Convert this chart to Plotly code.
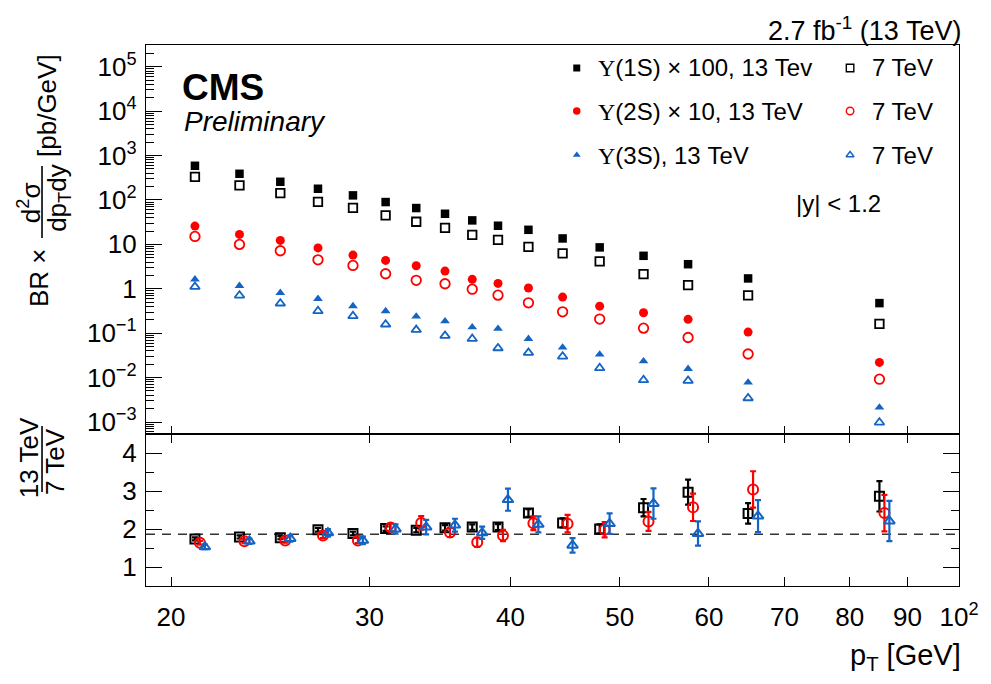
import plotly.graph_objects as go

# ---------------- data ----------------
pt = [21, 23, 25, 27, 29, 31, 33, 35, 37, 39, 41.5, 44.5, 48, 52.5, 57.5, 65, 85]

y1s_13 = [589, 389, 257, 179, 127, 89.8, 65.8, 48.9, 34.7, 26.3, 21.3, 13.6, 8.56, 5.53, 3.58, 1.71, 0.476]
y1s_7 = [333, 213, 143, 91.0, 66.6, 45.0, 32.3, 23.6, 16.4, 12.7, 8.83, 6.27, 4.14, 2.14, 1.21, 0.71, 0.163]
y2s_13 = [25.8, 16.8, 12.3, 8.34, 5.74, 4.36, 3.30, 2.50, 1.63, 1.32, 1.04, 0.650, 0.406, 0.288, 0.205, 0.106, 0.022]
y2s_7 = [15.1, 10.0, 7.18, 4.50, 3.36, 2.18, 1.55, 1.30, 0.98, 0.72, 0.484, 0.303, 0.208, 0.130, 0.080, 0.034, 0.0092]
y3s_13 = [1.63, 1.17, 0.813, 0.595, 0.408, 0.315, 0.239, 0.187, 0.137, 0.126, 0.0748, 0.0479, 0.0333, 0.0235, 0.0158, 0.0078, 0.00213]
y3s_7 = [1.11, 0.710, 0.469, 0.315, 0.243, 0.158, 0.119, 0.0874, 0.0748, 0.0461, 0.0362, 0.0300, 0.0164, 0.0088, 0.0085, 0.00345, 0.00098]

r1 = [1.74, 1.79, 1.77, 1.98, 1.88, 2.01, 1.97, 2.03, 2.05, 2.05, 2.42, 2.16, 2.00, 2.56, 2.97, 2.41, 2.86]
r1_err = [0.04, 0.04, 0.04, 0.05, 0.05, 0.06, 0.06, 0.07, 0.07, 0.08, 0.10, 0.12, 0.12, 0.23, 0.33, 0.27, 0.40]
r2 = [1.64, 1.68, 1.70, 1.83, 1.70, 2.04, 2.16, 1.91, 1.65, 1.83, 2.15, 2.14, 1.98, 2.20, 2.57, 3.04, 2.42]
r2_err = [0.05, 0.05, 0.06, 0.07, 0.07, 0.10, 0.18, 0.12, 0.12, 0.15, 0.18, 0.23, 0.20, 0.25, 0.36, 0.48, 0.48]
r3 = [1.53, 1.68, 1.75, 1.90, 1.70, 2.00, 2.05, 2.10, 1.90, 2.77, 2.12, 1.57, 2.14, 2.67, 1.88, 2.34, 2.21]
r3_err = [0.06, 0.07, 0.08, 0.10, 0.10, 0.12, 0.19, 0.17, 0.16, 0.29, 0.21, 0.19, 0.27, 0.40, 0.32, 0.42, 0.53]

ratio_ref = 1.86

x_tickvals = [20, 30, 40, 50, 60, 70, 80, 90, 100]
x_ticktext = ["20", "30", "40", "50", "60", "70", "80", "90", "10<sup>2</sup>"]
y_tickvals = [1e-3, 1e-2, 1e-1, 1, 10, 1e2, 1e3, 1e4, 1e5]
y_ticktext = ["10<sup>\u22123</sup>", "10<sup>\u22122</sup>", "10<sup>\u22121</sup>", "1", "10",
              "10<sup>2</sup>", "10<sup>3</sup>", "10<sup>4</sup>", "10<sup>5</sup>"]

# ---------------- style ----------------
BLACK = "#000000"
RED = "#ff0000"
BLUE = "#1464c4"
FONT = "Liberation Sans, Arial, sans-serif"
W, H = 991, 684
ML, MR, MT, MB = 146, 24, 45, 98
PW, PH = W - ML - MR, H - MT - MB
SPLIT = 434  # pixel y of panel boundary


def px(x):
    return (x - ML) / PW


def py(y):
    return (H - MB - y) / PH


def py_up(y):  # fraction inside the upper panel
    return (SPLIT - y) / (SPLIT - MT)


split_dom = py(SPLIT)

fig = go.Figure()


def mk(sym, size, color, filled, lw=1.8):
    if filled:
        return dict(symbol=sym, size=size, color=color, line=dict(width=0))
    return dict(symbol=sym + "-open", size=size, color=color, line=dict(width=lw, color=color))


# upper panel
series = [
    (y1s_7, mk("square", 8.5, BLACK, False)),
    (y1s_13, mk("square", 8.5, BLACK, True)),
    (y2s_7, mk("circle", 9.5, RED, False)),
    (y2s_13, mk("circle", 9, RED, True)),
    (y3s_7, mk("triangle-up", 8.5, BLUE, False)),
    (y3s_13, mk("triangle-up", 8.5, BLUE, True)),
]
for ys, m in series:
    fig.add_trace(go.Scatter(x=pt, y=ys, mode="markers", marker=m, xaxis="x", yaxis="y",
                             showlegend=False, hoverinfo="x+y"))

# lower panel ratios (small horizontal offsets so they do not overlap)
ratio_sets = [
    (r1, r1_err, 1.0, mk("square", 9, BLACK, False, 2)),
    (r2, r2_err, 1.0102, mk("circle", 10, RED, False, 2)),
    (r3, r3_err, 1.0205, mk("triangle-up", 9.5, BLUE, False, 2)),
]
for r, e, f, m in ratio_sets:
    fig.add_trace(go.Scatter(
        x=[p * f for p in pt], y=r, mode="markers", marker=m,
        error_y=dict(type="data", array=e, color=m["color"], thickness=2.2, width=3),
        xaxis="x2", yaxis="y2", showlegend=False, hoverinfo="x+y"))

# legend markers on an invisible overlay axis (0..1 over the upper panel)
leg_rows = [68, 111, 155]
leg_markers = [
    (581, leg_rows[0], mk("square", 7, BLACK, True)),
    (581, leg_rows[1], mk("circle", 7.5, RED, True)),
    (581, leg_rows[2], mk("triangle-up", 7, BLUE, True)),
    (857, leg_rows[0], mk("square", 7.5, BLACK, False, 1.4)),
    (857, leg_rows[1], mk("circle", 7.5, RED, False, 1.4)),
    (857, leg_rows[2], mk("triangle-up", 7, BLUE, False, 1.4)),
]
for lx, ly, m in leg_markers:
    fig.add_trace(go.Scatter(x=[px(lx)], y=[py_up(ly)], mode="markers", marker=m,
                             xaxis="x3", yaxis="y3", showlegend=False, hoverinfo="skip"))

axis_common = dict(showgrid=False, zeroline=False, showline=True, linecolor=BLACK, linewidth=1.4,
                   ticks="inside", tickcolor=BLACK, tickwidth=1.3)
xr = [1.2788, 2.0]

fig.update_layout(
    width=W, height=H,
    margin=dict(l=ML, r=MR, t=MT, b=MB),
    paper_bgcolor="white", plot_bgcolor="white",
    font=dict(family=FONT, color=BLACK, size=22),
    xaxis=dict(**axis_common, type="log", range=xr, domain=[0, 1], anchor="y",
               tickvals=x_tickvals, showticklabels=False, ticklen=8, mirror=True),
    yaxis=dict(**axis_common, type="log", range=[-3.27, 5.49], domain=[split_dom, 1], anchor="x",
               tickvals=y_tickvals, ticktext=y_ticktext, ticklen=16, mirror=True,
               tickfont=dict(size=26), ticklabelstandoff=3,
               minor=dict(ticks="inside", ticklen=8, tickcolor=BLACK, tickwidth=1.1,
                          tickvals=[k * 10 ** d for d in range(-4, 6) for k in range(2, 10)])),
    xaxis2=dict(**axis_common, type="log", range=xr, domain=[0, 1], anchor="y2",
                tickvals=x_tickvals, ticktext=x_ticktext, ticklen=9, mirror="allticks",
                tickfont=dict(size=26), ticklabelstandoff=8),
    yaxis2=dict(**axis_common, range=[0.5, 4.5], domain=[0, split_dom], anchor="x2",
                tickvals=[1, 2, 3, 4], ticklen=16, mirror="allticks",
                tickfont=dict(size=26), ticklabelstandoff=3,
                minor=dict(ticks="inside", ticklen=8, tickcolor=BLACK, tickwidth=1.1,
                           tickvals=[0.5, 1.5, 2.5, 3.5, 4.5])),
    xaxis3=dict(range=[0, 1], anchor="y3", overlaying="x", visible=False),
    yaxis3=dict(range=[0, 1], anchor="x3", overlaying="y", visible=False),
)

# dashed reference line in ratio panel
fig.add_shape(type="line", xref="x2 domain", yref="y2", x0=0, x1=1, y0=ratio_ref, y1=ratio_ref,
              line=dict(color="#333333", width=1.6, dash="9px,7px"), layer="below")

ann = []


def text(x, y, s, size=22, xanchor="center", yanchor="middle", angle=0, **kw):
    ann.append(dict(x=px(x), y=py(y), xref="paper", yref="paper", text=s, showarrow=False,
                    xanchor=xanchor, yanchor=yanchor, textangle=angle, borderpad=0,
                    font=dict(family=FONT, size=size, color=BLACK), **kw))


UPS = "<span style='font-family:Liberation Serif'>\u03a5</span>"
text(970, 29, "2.7 fb<sup>-1</sup> (13 TeV)", size=27, xanchor="right")
text(181, 87, "<b>CMS</b>", size=37, xanchor="left")
text(183, 121, "<i>Preliminary</i>", size=28, xanchor="left")
LEGF = 24
text(601, leg_rows[0], UPS + "(1S) \u00d7 100, 13 Tev", size=LEGF, xanchor="left")
text(601, leg_rows[1], UPS + "(2S) \u00d7 10, 13 TeV", size=LEGF, xanchor="left")
text(601, leg_rows[2], UPS + "(3S), 13 TeV", size=LEGF, xanchor="left")
for r in leg_rows:
    text(878, r, "7 TeV", size=LEGF, xanchor="left")
text(801, 203, "|y| &lt; 1.2", size=LEGF, xanchor="left")
text(970, 657, "p<sub>T</sub> [GeV]", size=29, xanchor="right")

# y-axis titles (rotated, built from pieces to mimic the fractions)
text(38, 278, "BR \u00d7", size=26, angle=-90)
text(28, 203, "d<sup>2</sup>\u03c3", size=26, angle=-90)
text(57, 198, "dp<sub>T</sub>dy", size=26, angle=-90)
text(46, 105, "[pb/GeV]", size=26, angle=-90)
text(28, 458, "13 TeV", size=26, angle=-90)
text(54, 461, "7 TeV", size=26, angle=-90)
fig.update_layout(annotations=ann)

fig.add_shape(type="line", xref="paper", yref="paper", x0=px(41), x1=px(41), y0=py(166), y1=py(238),
              line=dict(color=BLACK, width=1.6))
fig.add_shape(type="line", xref="paper", yref="paper", x0=px(41), x1=px(41), y0=py(426), y1=py(492),
              line=dict(color=BLACK, width=1.6))

fig.write_html("out.html")
